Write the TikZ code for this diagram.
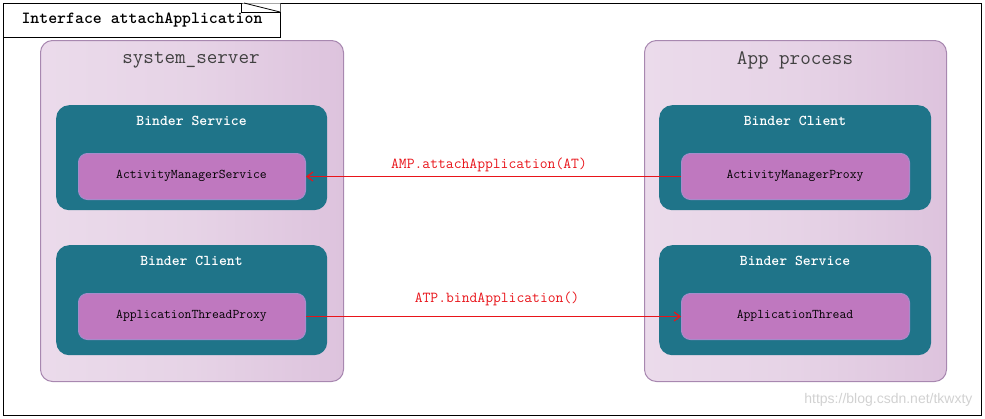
\documentclass[tikz,border=0pt]{standalone}
\usepackage{fontspec}
\setsansfont{Liberation Sans}
\usetikzlibrary{arrows.meta}
\definecolor{procfill}{HTML}{E6D3E6}
\definecolor{procleft}{HTML}{EBDBEB}
\definecolor{procright}{HTML}{DDC3DD}
\definecolor{procdraw}{HTML}{A888B0}
\definecolor{teal}{HTML}{1F7489}
\definecolor{innerfill}{HTML}{BF78BF}
\definecolor{innerdraw}{HTML}{A58CCB}
\definecolor{titlegray}{HTML}{404040}
\definecolor{arrowred}{HTML}{E8141A}
\begin{document}
\begin{tikzpicture}[x=1pt,y=-1pt,
  procbox/.style={draw=procdraw,line width=1pt,rounded corners=12pt,left color=procleft,right color=procright,middle color=procfill},
  binderbox/.style={fill=teal,rounded corners=13pt},
  innerbox/.style={draw=innerdraw,line width=1pt,rounded corners=9pt,fill=innerfill},
  proctitle/.style={font=\ttfamily\fontsize{20.5}{22}\selectfont,text=titlegray},
  bindertitle/.style={font=\ttfamily\bfseries\fontsize{15}{17}\selectfont,text=white},
  innertext/.style={font=\ttfamily\fontsize{13.3}{15}\selectfont,text=black},
  call/.style={draw=arrowred,line width=1.2pt,-{Straight Barb[length=6pt,width=9pt]}},
  calllabel/.style={font=\ttfamily\fontsize{15.2}{17}\selectfont,text=arrowred},
]
\useasboundingbox (0,0) rectangle (985,418);
% outer frame
\draw[line width=0.8pt] (3,3) rectangle (981,415);
% title tab
\node[draw,line width=0.8pt,fill=white,minimum width=277pt,minimum height=34pt,anchor=north west,inner sep=0pt] (tab) at (3,3) {};
\node[font=\ttfamily\bfseries\fontsize{17}{19}\selectfont,anchor=west] (tabtext) at (18,20.5) {Interface attachApplication};
\fill[white] (241.5,3.4) -- (280.4,3.4) -- (280.4,12) -- cycle;
\draw[line width=0.8pt] (241.5,3) -- (241.5,12) -- (280,12);
\draw[line width=0.8pt] (244,3) -- (280,12);

% left process
\node[procbox,minimum width=303pt,minimum height=341pt,anchor=north west] (sys) at (40,40) {};
\node[proctitle] (systitle) at (191,60) {system\_server};
\node[binderbox,minimum width=271pt,minimum height=105pt,anchor=north west] (lsvc) at (56,105) {};
\node[bindertitle] (lsvct) at (191.5,121) {Binder Service};
\node[innerbox,minimum width=227pt,minimum height=46pt,anchor=north west] (ams) at (78,153) {};
\node[innertext] (amst) at (191.5,176) {ActivityManagerService};
\node[binderbox,minimum width=271pt,minimum height=110pt,anchor=north west] (lcli) at (56,245) {};
\node[bindertitle] (lclit) at (191.5,261) {Binder Client};
\node[innerbox,minimum width=227pt,minimum height=46pt,anchor=north west] (atp) at (78,293) {};
\node[innertext] (atpt) at (191.5,316) {ApplicationThreadProxy};

% right process
\node[procbox,minimum width=302pt,minimum height=341pt,anchor=north west] (app) at (644,40) {};
\node[proctitle] (apptitle) at (795,60) {App process};
\node[binderbox,minimum width=272pt,minimum height=105pt,anchor=north west] (rcli) at (659,105) {};
\node[bindertitle] (rclit) at (795,121) {Binder Client};
\node[innerbox,minimum width=228pt,minimum height=46pt,anchor=north west] (amp) at (681,153) {};
\node[innertext] (ampt) at (795,176) {ActivityManagerProxy};
\node[binderbox,minimum width=272pt,minimum height=110pt,anchor=north west] (rsvc) at (659,245) {};
\node[bindertitle] (rsvct) at (795,261) {Binder Service};
\node[innerbox,minimum width=228pt,minimum height=46pt,anchor=north west] (at) at (681,293) {};
\node[innertext] (att) at (795,316) {ApplicationThread};

% calls
\draw[call] (amp.west) -- (ams.east);
\node[calllabel] (l1) at (489,165) {AMP.attachApplication(AT)};
\draw[call] (atp.east) -- (at.west);
\node[calllabel] (l2) at (497,299) {ATP.bindApplication()};

% watermark
\node[font=\sffamily\fontsize{14}{16}\selectfont,text=black!18,anchor=east] (wm) at (976,400) {https://blog.csdn.net/tkwxty};
\end{tikzpicture}
\end{document}
